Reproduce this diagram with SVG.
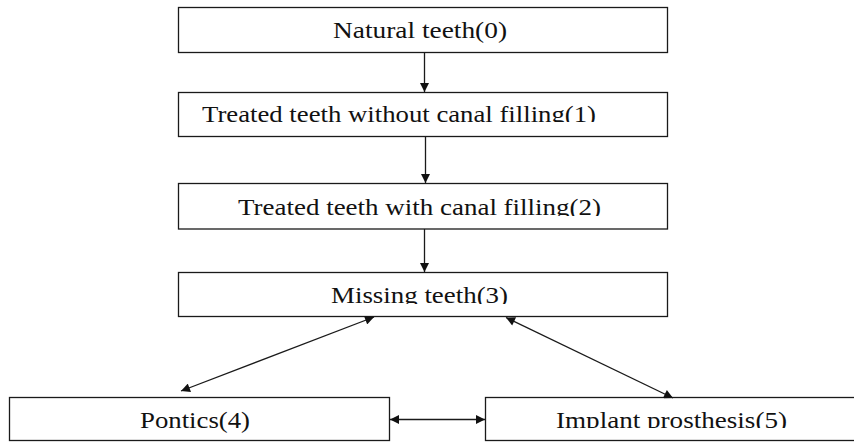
<svg xmlns="http://www.w3.org/2000/svg" width="854" height="442" viewBox="0 0 854 442">
<style>
.box{fill:#fff;stroke:#1a1a1a;stroke-width:1.3}
.lbl{font-family:"Liberation Serif","Times New Roman",serif;font-size:23px;fill:#111}
.conn{stroke:#1a1a1a;stroke-width:1.3;fill:none}
</style>
<defs>
<marker id="ah" viewBox="0 0 10 10" refX="10" refY="5" markerWidth="10" markerHeight="9" markerUnits="userSpaceOnUse" orient="auto-start-reverse">
<path d="M0,0 L10,5 L0,10 Z" fill="#111"/>
</marker>
<clipPath id="c1"><rect x="179" y="93" width="488" height="29"/></clipPath>
<clipPath id="c2"><rect x="179" y="184" width="488" height="32"/></clipPath>
<clipPath id="c3"><rect x="179" y="273" width="488" height="31"/></clipPath>
<clipPath id="c5"><rect x="486" y="398" width="368" height="30"/></clipPath>
</defs>
<g id="n0">
<rect class="box" x="178.5" y="7.5" width="489" height="45"/>
<text class="lbl" x="333" y="38" textLength="174" lengthAdjust="spacingAndGlyphs">Natural teeth(0)</text>
</g>
<g id="n1">
<rect class="box" x="178.5" y="92.5" width="489" height="44"/>
<text class="lbl" x="202" y="121.5" textLength="394" lengthAdjust="spacingAndGlyphs" clip-path="url(#c1)">Treated teeth without canal filling(1)</text>
</g>
<g id="n2">
<rect class="box" x="178.5" y="183.5" width="489" height="45.5"/>
<text class="lbl" x="238" y="215" textLength="363" lengthAdjust="spacingAndGlyphs" clip-path="url(#c2)">Treated teeth with canal filling(2)</text>
</g>
<g id="n3">
<rect class="box" x="178.5" y="272.5" width="489" height="44"/>
<text class="lbl" x="331" y="303" textLength="177" lengthAdjust="spacingAndGlyphs" clip-path="url(#c3)">Missing teeth(3)</text>
</g>
<g id="n4">
<rect class="box" x="9.5" y="397.5" width="380" height="43"/>
<text class="lbl" x="140" y="427.5" textLength="110" lengthAdjust="spacingAndGlyphs">Pontics(4)</text>
</g>
<g id="n5">
<rect class="box" x="485.5" y="397.5" width="380" height="43"/>
<text class="lbl" x="556" y="427.5" textLength="231" lengthAdjust="spacingAndGlyphs" clip-path="url(#c5)">Implant prosthesis(5)</text>
</g>
<g id="connectors">
<line class="conn" x1="424.5" y1="53" x2="424.5" y2="92" marker-end="url(#ah)"/>
<line class="conn" x1="425.5" y1="137" x2="425.5" y2="183" marker-end="url(#ah)"/>
<line class="conn" x1="424.5" y1="229" x2="424.5" y2="272" marker-end="url(#ah)"/>
<line class="conn" x1="374" y1="317" x2="181" y2="391" marker-start="url(#ah)" marker-end="url(#ah)"/>
<line class="conn" x1="506" y1="317.5" x2="673" y2="398" marker-start="url(#ah)" marker-end="url(#ah)"/>
<line class="conn" x1="390" y1="419.5" x2="485" y2="419.5" marker-start="url(#ah)" marker-end="url(#ah)"/>
</g>
</svg>
